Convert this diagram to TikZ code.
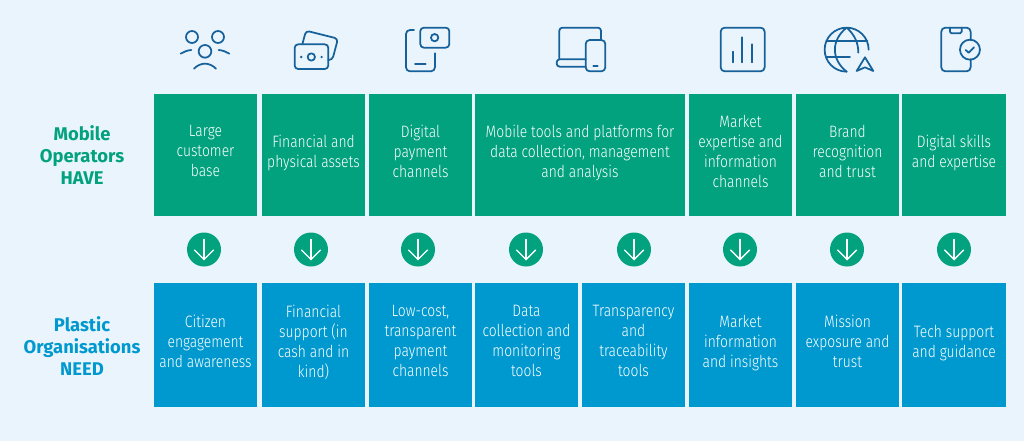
\documentclass[tikz,border=0pt]{standalone}
\usepackage{fontspec}
\setmainfont{Fira Sans Light}[FakeStretch=0.84]
\newfontfamily\sidefont{Fira Sans Bold}
\definecolor{bgc}{HTML}{E9F4FC}
\definecolor{grn}{HTML}{02A27F}
\definecolor{blu}{HTML}{0099CF}
\definecolor{ico}{HTML}{17619A}
\tikzset{
  cellbox/.style={rectangle,draw=none,fill=#1,text=white,inner sep=0pt,align=center,
    font=\fontsize{16.5}{20}\selectfont,text depth=8pt},
  topcell/.style={cellbox=grn,minimum height=122pt},
  botcell/.style={cellbox=blu,minimum height=124pt},
  w1/.style={minimum width=103.5pt},
  w2/.style={minimum width=210.5pt},
  side/.style={align=center,inner sep=0pt,font=\sidefont\fontsize{18.4}{22}\selectfont},
  badge/.style={circle,fill=grn,minimum size=34pt,inner sep=0pt},
  iconline/.style={draw=ico,line width=1.75pt,line cap=round,line join=round,fill=none},
  downarrow/.style={draw=white,line width=1.4pt,line cap=round,line join=miter}
}
\begin{document}
\begin{tikzpicture}[x=1pt,y=-1pt]
\useasboundingbox (0,0) rectangle (1024,441);
\fill[bgc] (0,0) rectangle (1024,441);
% top row
\node[topcell,w1] (t1) at (205.5,155) {Large\\customer\\base};
\node[topcell,w1] (t2) at (313.5,155) {Financial and\\physical assets};
\node[topcell,w1] (t3) at (420.5,155) {Digital\\payment\\channels};
\node[topcell,w2] (t4) at (580,155) {Mobile tools and platforms for\\data collection, management\\and analysis};
\node[topcell,w1] (t5) at (740.5,155) {Market\\expertise and\\information\\channels};
\node[topcell,w1] (t6) at (847.5,155) {Brand\\recognition\\and trust};
\node[topcell,w1] (t7) at (954,155) {Digital skills\\and expertise};
% bottom row
\node[botcell,w1] (b1) at (205.5,345) {Citizen\\engagement\\and awareness};
\node[botcell,w1] (b2) at (313.5,345) {Financial\\support (in\\cash and in\\kind)};
\node[botcell,w1] (b3) at (420.5,345) {Low-cost,\\transparent\\payment\\channels};
\node[botcell,w1] (b4) at (526.5,345) {Data\\collection and\\monitoring\\tools};
\node[botcell,w1] (b5) at (633.5,345) {Transparency\\and\\traceability\\tools};
\node[botcell,w1] (b6) at (740.5,345) {Market\\information\\and insights};
\node[botcell,w1] (b7) at (847.5,345) {Mission\\exposure and\\trust};
\node[botcell,w1] (b8) at (954,345) {Tech support\\and guidance};
% side labels
\node[side,text=grn] (lh) at (82,155.5) {Mobile\\Operators\\HAVE};
\node[side,text=blu] (ln) at (82,346.5) {Plastic\\Organisations\\NEED};
% badges
\foreach \n/\x in {a1/204,a2/311,a3/418,a4/526,a5/634,a6/740,a7/847,a8/954}{
  \node[badge] (\n) at (\x,249.5) {};
  \draw[downarrow] (\n.center) ++(0,-10) -- ++(0,20);
  \draw[downarrow] (\n.center) ++(-9.5,0.5) -- ++(9.5,9.5) -- ++(9.5,-9.5);
}
% icons, first group
\begin{scope}[shift={(160,10)},x=0.3333pt,y=-0.3333pt]
 \draw[iconline] (96,81) circle[radius=18] (174,81) circle[radius=18] (135,124) circle[radius=19];
 \draw[iconline] (62,131) .. controls (72,125) and (82,121) .. (94,120);
 \draw[iconline] (176,120) .. controls (188,121) and (198,125) .. (208,131);
 \draw[iconline] (102,176) .. controls (122,156) and (148,156) .. (168,176);
 \draw[iconline,rounded corners=3.5pt] (404,103) rectangle (505,177);
 \draw[iconline] (454,141) circle[radius=11];
 \fill[ico] (424,141) circle[radius=4] (485,141) circle[radius=4];
 \draw[iconline,rounded corners=3.5pt] (427,103) -- (438,62) -- (534,86) -- (517,150) -- (505,150);
 \draw[iconline,rounded corners=4pt] (762,60) -- (738,60) -- (738,184) -- (825,184) -- (825,130);
 \draw[iconline] (765,161) -- (797,161);
 \draw[iconline,rounded corners=3.5pt] (781,53) rectangle (868,113);
 \draw[iconline] (824,83) circle[radius=11];
\end{scope}
% icons, second group
\begin{scope}[shift={(540,10)},x=0.3333pt,y=-0.3333pt]
 \draw[iconline,rounded corners=3pt] (58,146) -- (58,53) -- (183,53) -- (183,90);
 \draw[iconline,rounded corners=3pt] (137,148) -- (50,148) -- (50,170) -- (137,170);
 \draw[iconline,rounded corners=4pt] (137,90) rectangle (196,184);
 \draw[iconline] (160,167) -- (173,167);
 \draw[iconline,rounded corners=4pt] (542,53) rectangle (674,184);
 \draw[iconline] (578,125) -- (578,157) (607,82) -- (607,157) (637,103) -- (637,157);
 \draw[iconline] (920,185) arc[start angle=270,delta angle=-270,x radius=66,y radius=-66];
 \draw[iconline] (920,53) .. controls (873,90) and (873,148) .. (920,185);
 \draw[iconline] (920,53) .. controls (945,75) and (955,100) .. (955,128);
 \draw[iconline] (860,93) -- (982,93) (860,142) -- (930,142);
 \draw[iconline] (975,142) -- (1000,183) -- (975,172) -- (950,183) -- cycle;
 \draw[iconline,rounded corners=4pt] (1292,90) -- (1292,53) -- (1204,53) -- (1204,184) -- (1292,184) -- (1292,148);
 \draw[iconline,rounded corners=1.5pt] (1230,53) -- (1230,70) -- (1265,70) -- (1265,53);
 \draw[iconline] (1290,119) circle[radius=30];
 \draw[iconline] (1277,120) -- (1286,128) -- (1302,112);
\end{scope}
\end{tikzpicture}
\end{document}
